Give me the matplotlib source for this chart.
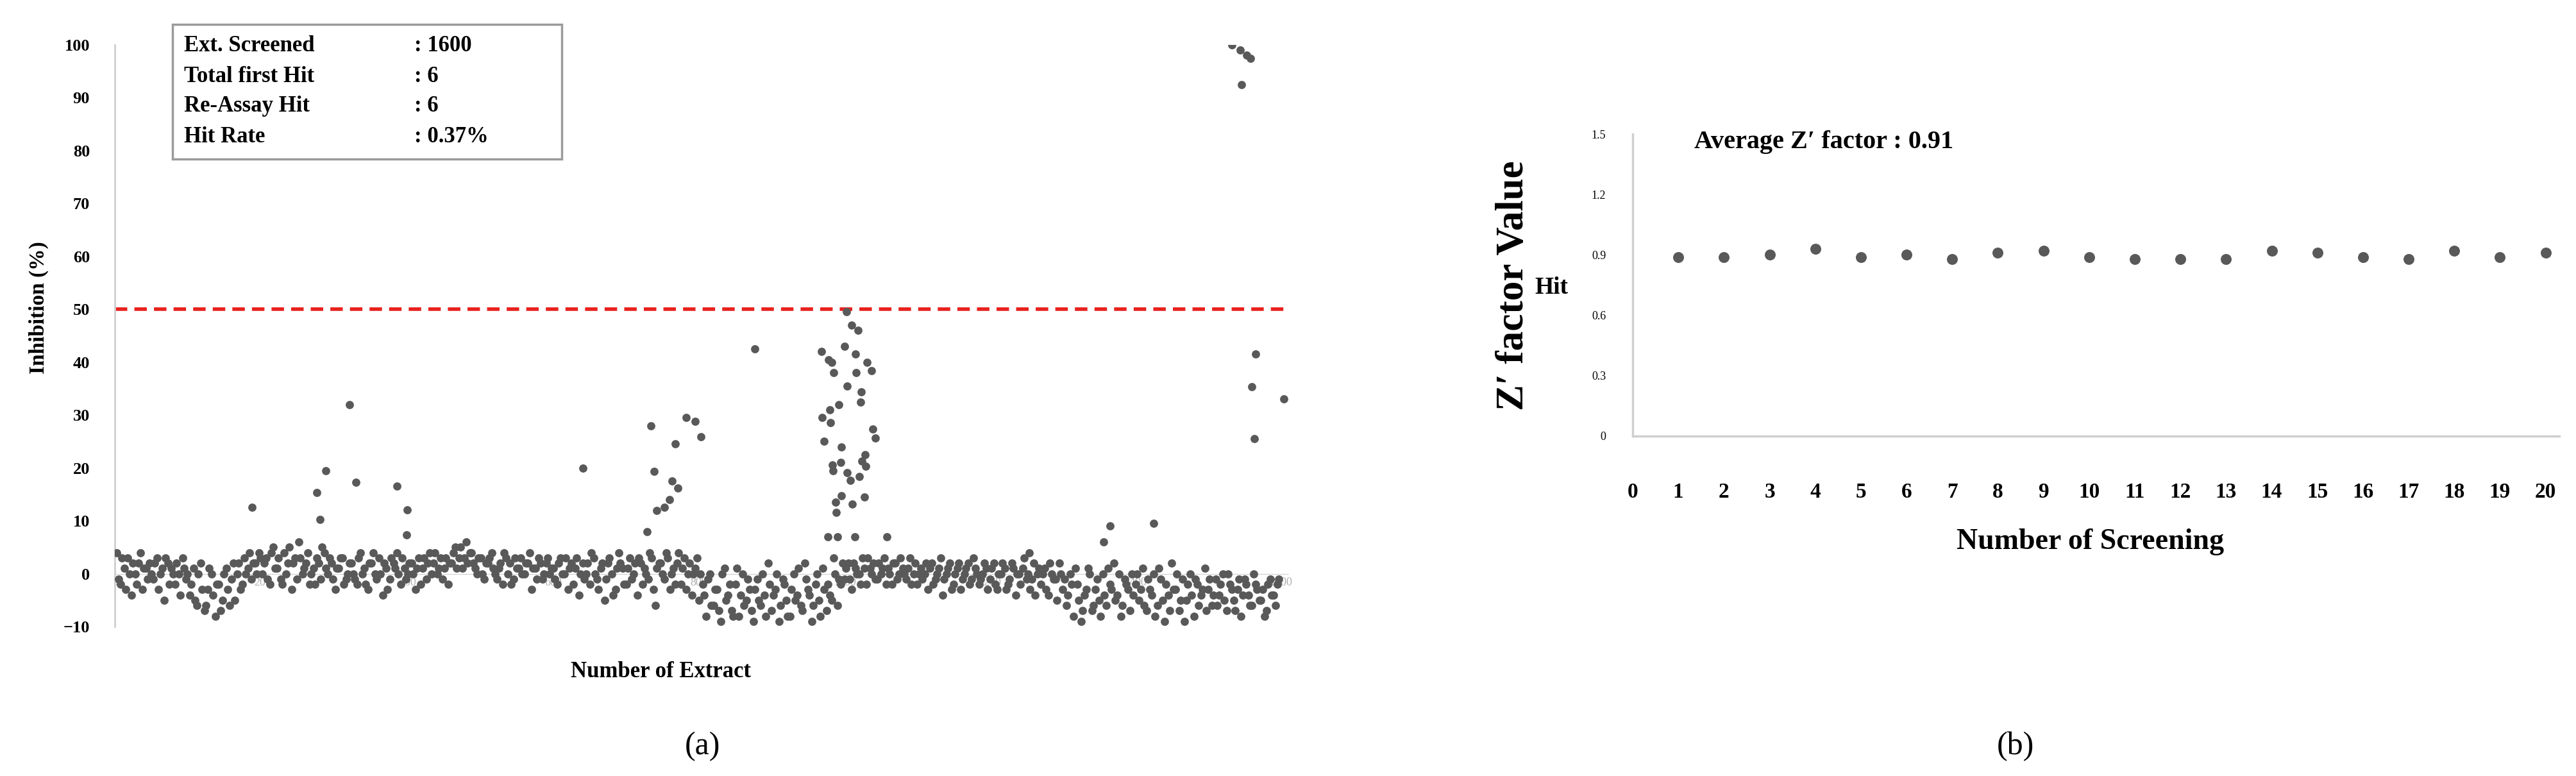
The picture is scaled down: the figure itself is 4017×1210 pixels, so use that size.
import numpy as np
import matplotlib.pyplot as plt

plt.rcParams['font.family'] = ['Liberation Serif', 'DejaVu Serif']

W, H = 4017, 1210

# panel (a): baseline inhibition, one value every 5 extracts (two interleaved reads)
base_a = [
    4, -2, 1, 3, -4, 0, 2, -3, 1, 2, -1, 3, 0, -5, 2, 1, -2, 0, 3, -1,
    -4, 1, -6, 2, -7, -3, 0, -8, -2, -5, 1, -6, 2, 0, -3, 3, 1, -1, 2, 4,
    0, 3, -2, 5, 1, -1, 4, 2, -3, 3, 6, 0, 2, -2, 1, 3, -1, 4, 0, 2,
    -3, 1, 3, -1, 2, 0, -2, 4, 1, -3, 2, 0, 3, -4, 1, -1, 2, 4, -2, 1,
    0, 2, -3, 3, 1, -1, 4, 2, 0, 3, 1, -2, 2, 5, 3, 1, 6, 4, 2, 0,
    3, -1, 2, 4, 0, 1, -2, 3, 2, -1, 1, 3, 0, 2, -3, 1, 3, -1, 2, 0,
    1, -2, 3, 0, -3, 2, 1, -4, 2, 0, -2, 3, -1, 1, -5, 2, 0, -3, 4, 1,
    -2, 3, 0, -4, 2, 1, -1, 3, -6, 2, 0, 4, -3, 1, 2, -2, 3, 0, -4, 1,
    -5, -2, -8, 0, -6, -3, -9, 1, -4, -7, -2, -8, 0, -5, -3, -9, -1, -6, -4, 2,
    -7, -3, -9, -1, -5, -8, 0, -4, -6, 2, -3, -9, -2, -5, 1, -7, -4, 3, -6, -2,
    -1, 2, -3, 1, 0, 3, -2, 1, 2, -1, 0, 3, 1, -2, 2, 0, 1, -1, 3, 0,
    -2, 1, 0, -3, 2, -1, 1, -4, 0, 2, -2, 1, -3, 0, 2, -1, 1, -2, 0, 1,
    -1, 2, -3, 0, 1, -2, 2, -4, 0, 1, -1, -3, 2, 0, -2, 1, -4, 0, -1, 2,
    -3, -6, 0, -8, -2, -9, -4, 1, -7, -3, -5, 0, -6, -2, 2, -4, -8, -1, -3, 0,
    -2, -5, 1, -7, -3, 0, -6, -1, -9, -4, 2, -3, -7, -1, -5, 0, -8, -2, -4, 1,
    -3, -6, -1, -4, 0, -7, -2, -5, -3, -8, -1, -4, -6, -2, -5, -3, -7, -1, -4, -2,
]
base_b = [
    -1, 3, -3, 0, 2, -2, 4, 1, -1, 0, 2, -3, 1, 3, -2, 0, 2, -4, 1, 0,
    -2, -5, 0, -3, -6, 1, -4, -2, -7, 0, -3, -1, -5, 2, -2, 0, 4, 2, 0, 3,
    2, -1, 4, 1, 3, -2, 0, 5, 2, -1, 3, 1, 4, 0, -2, 2, 5, 1, 3, -1,
    1, 3, -2, 0, 2, -1, 3, 0, -2, 2, 4, -1, 0, 2, -3, 3, 1, 0, 3, -1,
    2, 0, 1, -2, 3, 2, 0, 4, 1, -1, 3, 2, 4, 1, 5, 3, 2, 4, 1, 3,
    0, 2, 3, 1, -1, 2, 4, 0, -2, 3, 1, 0, 2, 4, 1, -1, 2, 0, 3, 1,
    -1, 2, 0, 3, 1, -2, 3, 0, -1, 2, 4, 0, -3, 2, -1, 3, -4, 1, 2, -2,
    1, -1, 2, 3, -2, 0, 4, -3, 1, 2, -1, 3, 0, -2, 4, 1, -3, 2, 0, 3,
    0, -4, -1, -6, -3, -7, 0, -5, -2, -8, 1, -4, -6, -1, -7, -3, -5, 0, -8, -2,
    -4, 0, -6, -2, -8, -3, -5, 1, -7, -1, -4, -6, 0, -8, -3, -2, -5, 0, -1, 2,
    1, -1, 2, 0, -2, 1, 3, 0, -1, 2, 1, -2, 0, 2, -1, 3, 0, 1, -2, 2,
    0, -1, 2, 1, -2, 0, 3, -1, 1, -3, 0, 2, -1, 1, -2, 3, 0, -1, 2, -3,
    1, -2, 0, 2, -3, -1, 1, 0, -2, 3, 0, -1, -4, 1, 0, -3, 2, -1, -5, 0,
    -1, -4, -2, 1, -5, -7, -3, 0, -6, -1, -8, -4, 1, -3, -5, 0, -6, -2, -7, -4,
    0, -3, -6, -1, -4, -8, 1, -5, -2, -7, -3, 0, -5, -9, -2, -4, -1, -6, -3, -7,
    -1, -4, -6, -2, -5, 0, -3, -7, -1, -4, -2, -6, 0, -3, -5, -8, -2, -4, -6, -1,
]

# panel (a): extracts that stand out from the baseline
out_idx = [186, 275, 287, 320, 328, 385, 399, 279, 398,
           640, 734, 738, 763, 771, 767, 782, 795, 803, 759, 752, 742, 729, 877,
           982, 1031, 1015, 1037, 1016, 1004, 1023, 1022, 992, 980, 969, 981, 1039,
           1042, 972, 996, 1028, 1024, 983, 995, 1029, 984, 1004, 1020, 1008, 996,
           1027, 988, 1011, 989, 968, 978, 1003, 1010, 1019, 1000, 985, 977, 990,
           1014, 1058, 1254, 1365, 1425, 1356,
           1532, 1544, 1553, 1558, 1546, 1565, 1560, 1604, 1563]
out_val = [12.5, 15.3, 19.5, 32, 17.3, 16.5, 12.1, 10.3, 7.3,
           19.9, 27.9, 19.4, 17.5, 16.2, 24.6, 29.5, 28.8, 25.9, 14, 12.5, 12, 8, 42.5,
           40, 40, 41.6, 38.4, 38, 35.5, 34.4, 32.5, 32, 31, 29.5, 28.6, 27.3,
           25.6, 25, 24, 22.5, 21.3, 20.6, 21, 20.3, 19.5, 19.1, 18.4, 17.6, 14.8,
           14.5, 13.5, 13.2, 11.6, 42, 40.5, 49.5, 47, 46, 43, 38, 7, 7,
           7, 7, 4, 9, 9.5, 6,
           100, 99, 98, 97.5, 92.5, 41.5, 35.4, 33, 25.5]

# panel (b): Z' factor for each screening run
runs = list(range(1, 21))
zfac = [0.89, 0.89, 0.90, 0.93, 0.89, 0.90, 0.88, 0.91, 0.92, 0.89,
        0.88, 0.88, 0.88, 0.92, 0.91, 0.89, 0.88, 0.92, 0.89, 0.91]

dot = '#595959'
axc = '#cfcfcf'

fig = plt.figure(figsize=(W / 100, H / 100), dpi=100)

def px(x, y):
    return x / W, 1 - y / H

# ---- (a)
ax = fig.add_axes([179 / W, 1 - 977 / H, (2009 - 179) / W, 907 / H])
xa = np.arange(len(base_a)) * 5
ax.scatter(xa, base_a, s=85, color=dot, lw=0, zorder=3)
ax.scatter(xa + 2, base_b, s=85, color=dot, lw=0, zorder=3)
ax.scatter(out_idx, out_val, s=85, color=dot, lw=0, zorder=3)
ax.axhline(50, color='#e8201c', ls=(0, (3.5, 2)), lw=4, zorder=2)
ax.set_xlim(-3, 1610)
ax.set_ylim(-10, 100)
ax.set_yticks(range(-10, 101, 10))
ax.set_xticks(range(0, 1601, 200))
for s in ['top', 'right']:
    ax.spines[s].set_visible(False)
ax.spines['left'].set_color(axc)
ax.spines['left'].set_linewidth(2)
ax.spines['bottom'].set_position(('data', 0))
ax.spines['bottom'].set_color(axc)
ax.tick_params(axis='y', length=0, labelsize=19, pad=28)
ax.tick_params(axis='x', length=0, labelsize=13, labelcolor='#b0b0b0', pad=4)
for t in ax.get_yticklabels():
    t.set_fontweight('bold')
ax.text(1995, 52, 'Hit', fontsize=27, fontweight='bold', ha='right', va='bottom')

fig.patches.append(plt.Rectangle(px(269, 248), (876 - 269) / W, 210 / H,
                                 transform=fig.transFigure, fill=False,
                                 ec='#9a9a9a', lw=2.5))
labels = ['Ext. Screened', 'Total first Hit', 'Re-Assay Hit', 'Hit Rate']
values = [': 1600', ': 6', ': 6', ': 0.37%']
for i, (l, v) in enumerate(zip(labels, values)):
    y = 72 + i * 47
    fig.text(*px(287, y), l, fontsize=25, fontweight='bold', va='center')
    fig.text(*px(646, y), v, fontsize=25, fontweight='bold', va='center')

fig.text(*px(60, 480), 'Inhibition (%)', rotation=90, fontsize=24,
         fontweight='bold', ha='center', va='center')
fig.text(*px(1030, 1047), 'Number of Extract', fontsize=25,
         fontweight='bold', ha='center', va='center')
fig.text(*px(1095, 1164), '(a)', fontsize=36, ha='center', va='center')
fig.text(*px(1095, 1164), '  a  ', fontsize=36, fontweight='bold', ha='center',
         va='center', alpha=0)

# ---- (b)
bx = fig.add_axes([2546 / W, 1 - 680 / H, (3991 - 2546) / W, 471 / H])
bx.scatter(runs, zfac, s=150, color=dot, lw=0, zorder=3)
bx.set_xlim(0, 20.3)
bx.set_ylim(0, 1.5)
bx.set_xticks(range(0, 21))
bx.set_yticks([0, 0.3, 0.6, 0.9, 1.2, 1.5])
bx.set_yticklabels(['0', '0.3', '0.6', '0.9', '1.2', '1.5'])
for s in ['top', 'right']:
    bx.spines[s].set_visible(False)
for s in ['left', 'bottom']:
    bx.spines[s].set_color(axc)
    bx.spines[s].set_linewidth(2.5)
bx.tick_params(axis='y', length=0, labelsize=13, pad=30)
bx.tick_params(axis='x', length=0, labelsize=24, pad=52)
for t in bx.get_xticklabels():
    t.set_fontweight('bold')
fig.text(*px(2642, 222), 'Average Z\u2032 factor : 0.91', fontsize=29,
         fontweight='bold', va='center')
fig.text(*px(2360, 445), 'Z\u2032 factor Value', rotation=90, fontsize=44,
         fontweight='bold', ha='center', va='center')
fig.text(*px(3260, 845), 'Number of Screening', fontsize=33,
         fontweight='bold', ha='center', va='center')
fig.text(*px(3143, 1164), '(b)', fontsize=36, ha='center', va='center')

fig.savefig('out.png', dpi=100)
